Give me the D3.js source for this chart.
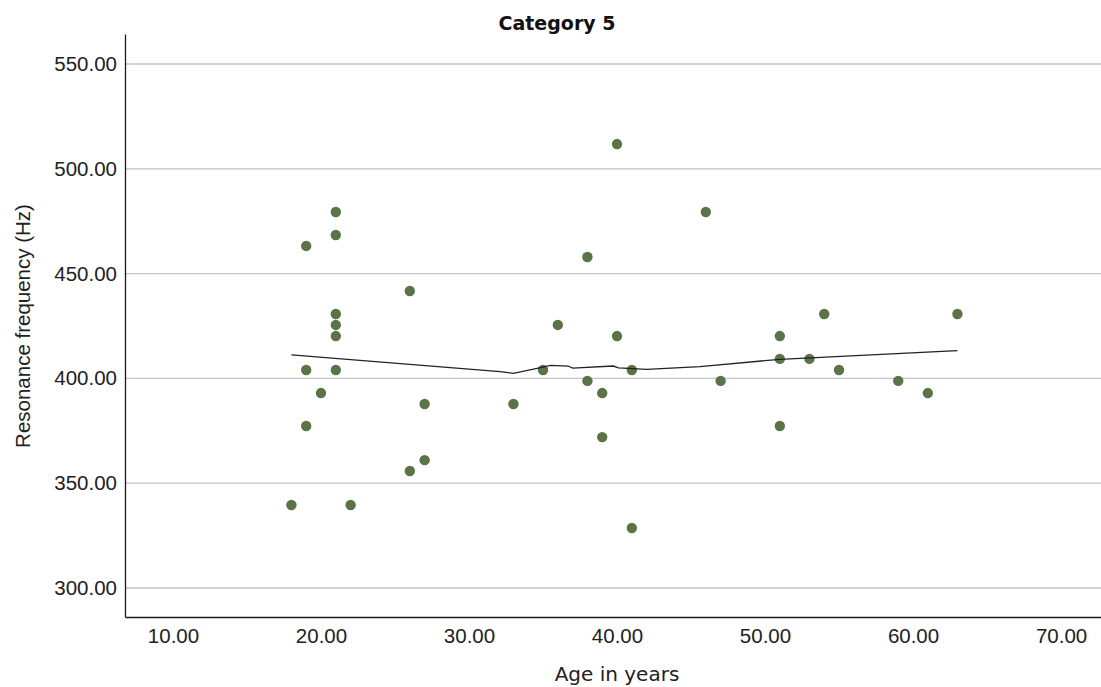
<!DOCTYPE html>
<html>
<head>
<meta charset="utf-8">
<script src="https://cdn.jsdelivr.net/npm/d3@7"></script>
<style>
  html, body { margin: 0; padding: 0; background: #fff; }
  svg { display: block; }
</style>
</head>
<body>
<div id="chart"></div>
<script>
// Scatter of resonance frequency vs age, Category 5, with fit line

const ages = [18, 19, 19, 19, 20, 21, 21, 21, 21, 21, 21, 22, 26, 26, 27, 27, 33, 35, 36, 38,
              38, 39, 39, 40, 40, 41, 41, 46, 47, 51, 51, 51, 53, 54, 55, 59, 61, 63];
const freqs = [339.6, 463.2, 404, 377.3, 393, 479.4, 468.4, 430.7, 425.5, 420.2, 404, 339.6,
               441.7, 355.8, 387.8, 361, 387.8, 404, 425.5, 457.9, 398.8, 393, 372, 511.8,
               420.2, 404, 328.6, 479.4, 398.8, 420.2, 409.3, 377.3, 409.3, 430.7, 404,
               398.8, 393, 430.7];

// fit line
const fitAges = [18, 32.1, 33, 34.6, 35.5, 36.7, 37, 39.75, 40.1, 42, 45.6, 51, 63];
const fitFreqs = [411.2, 403.2, 402.4, 404.8, 406.2, 405.9, 404.9, 405.9, 405, 404.3, 405.6, 409.1, 413.2];

const xTicks = [10, 20, 30, 40, 50, 60, 70];
const yTicks = [300, 350, 400, 450, 500, 550];

const width = 1101;
const height = 687;
const margin = { top: 34, right: 0, bottom: 70, left: 125 };
const FONT = "'Liberation Sans', Arial, Helvetica, sans-serif";

const svg = d3.select('#chart')
  .append('svg')
  .attr('width', width)
  .attr('height', height);

const x = d3.scaleLinear()
  .domain([6.757, 72.7])
  .range([margin.left, width - margin.right]);

const y = d3.scaleLinear()
  .domain([286.16, 564.31])
  .range([height - margin.bottom, margin.top]);

// Gridlines
svg.append('g')
  .selectAll('line')
  .data(yTicks)
  .join('line')
  .attr('x1', margin.left)
  .attr('x2', width)
  .attr('y1', d => y(d))
  .attr('y2', d => y(d))
  .attr('stroke', '#c4c4c4')
  .attr('stroke-width', 1.3);

// Axes
const xAxis = svg.append('g')
  .attr('transform', `translate(0, ${height - margin.bottom})`)
  .call(d3.axisBottom(x).tickValues(xTicks).tickFormat(d3.format('.2f'))
    .tickSizeInner(0).tickSizeOuter(0).tickPadding(11));

const yAxis = svg.append('g')
  .attr('transform', `translate(${margin.left}, 0)`)
  .call(d3.axisLeft(y).tickValues(yTicks).tickFormat(d3.format('.2f'))
    .tickSizeInner(0).tickSizeOuter(0).tickPadding(8));

[xAxis, yAxis].forEach(g => {
  g.attr('font-family', null);
  g.select('.domain').attr('stroke', '#1a1a1a').attr('stroke-width', 1.3);
  g.selectAll('text')
    .style('font-family', FONT)
    .style('font-size', '20.5px')
    .attr('fill', '#222');
});

// Points
svg.append('g')
  .selectAll('circle')
  .data(ages.map((a, i) => ({ age: a, freq: freqs[i] })))
  .join('circle')
  .attr('cx', d => x(d.age))
  .attr('cy', d => y(d.freq))
  .attr('r', 5.2)
  .attr('fill', '#5a7347');

// Fit line
const line = d3.line()
  .x(d => x(d[0]))
  .y(d => y(d[1]));

svg.append('path')
  .datum(fitAges.map((a, i) => [a, fitFreqs[i]]))
  .attr('d', line)
  .attr('fill', 'none')
  .attr('stroke', '#222')
  .attr('stroke-width', 1.3);

// Title
svg.append('text')
  .attr('x', 557)
  .attr('y', 30)
  .attr('text-anchor', 'middle')
  .style('font-family', "'DejaVu Sans', sans-serif")
  .style('font-weight', 'bold')
  .style('font-size', '19px')
  .attr('fill', '#111')
  .text('Category 5');

// Axis titles
svg.append('text')
  .attr('x', 617)
  .attr('y', 681)
  .attr('text-anchor', 'middle')
  .style('font-family', "'DejaVu Sans', sans-serif")
  .style('font-size', '20px')
  .attr('fill', '#222')
  .text('Age in years');

svg.append('text')
  .attr('transform', 'translate(30, 326) rotate(-90)')
  .attr('text-anchor', 'middle')
  .style('font-family', FONT)
  .style('font-size', '20.5px')
  .attr('fill', '#222')
  .text('Resonance frequency (Hz)');
</script>
</body>
</html>
